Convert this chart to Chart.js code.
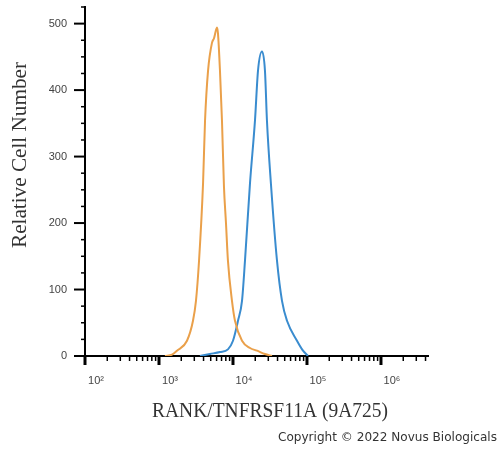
<!DOCTYPE html>
<html>
<head>
<meta charset="utf-8">
<script src="https://cdn.jsdelivr.net/npm/chart.js@4/dist/chart.umd.min.js"></script>
<style>
  html, body { margin: 0; padding: 0; background: #fff; }
  #wrap { width: 499px; height: 449px; position: relative; }
</style>
</head>
<body>
<div id="wrap"><canvas id="myChart"></canvas></div>
<script>
  // isotype control (orange) and RANK stained (blue), intensity vs count
  const orangeX = [1205, 1500, 1750, 2390, 2880, 3160, 3475, 3940, 4190, 4600, 5200, 5540, 6080, 6270, 6670, 7100, 7550, 8040, 8550, 9690, 10640, 13240, 16980, 21100, 27050, 33650];
  const orangeY = [0, 2, 8, 23, 53, 83, 143, 260, 354, 429, 471, 478, 494, 485, 429, 354, 255, 200, 143, 83, 53, 23, 12, 8, 3, 0];

  const blueX = [3580, 4890, 6670, 8550, 10000, 11690, 13240, 14520, 16980, 19820, 21770, 24660, 27050, 28780, 32620, 39360, 45950, 53700, 73280, 88330, 103200];
  const blueY = [0, 3, 6, 10, 23, 53, 83, 143, 260, 354, 429, 458, 429, 354, 258, 143, 83, 53, 23, 8, 0];

  const xDecades = [1e2, 1e3, 1e4, 1e5, 1e6];
  const xLabels = ['10²', '10³', '10⁴', '10⁵', '10⁶'];
  const yLabels = [0, 100, 200, 300, 400, 500];
  const yMinorStep = 25;

  const xTitle = 'RANK/TNFRSF11A (9A725)';
  const yTitle = 'Relative Cell Number';
  const copyright = 'Copyright © 2022 Novus Biologicals';

  const toPoints = (xs, ys) => xs.map((x, i) => ({ x: x, y: ys[i] }));

  // tick marks, major and minor, drawn through the scales
  const tickMarks = {
    id: 'tickMarks',
    afterDraw(chart) {
      const ctx = chart.ctx;
      const xs = chart.scales.x, ys = chart.scales.y;
      const base = chart.chartArea.bottom, left = chart.chartArea.left;
      ctx.save();
      ctx.strokeStyle = '#000';
      ctx.lineCap = 'butt';
      for (let d = 1e2; d <= xs.max; d *= 10) {
        for (let m = 1; m <= 9; m++) {
          const v = d * m;
          if (v > xs.max) break;
          const px = xs.getPixelForValue(v);
          const major = m === 1;
          ctx.lineWidth = major ? 3 : 1.5;
          ctx.beginPath();
          ctx.moveTo(px, base);
          ctx.lineTo(px, base + (major ? 9 : 5));
          ctx.stroke();
        }
      }
      for (let v = 0; v <= ys.max; v += yMinorStep) {
        const py = ys.getPixelForValue(v);
        const major = yLabels.includes(v);
        ctx.lineWidth = major ? 2 : 1.5;
        ctx.beginPath();
        ctx.moveTo(left, py);
        ctx.lineTo(left - (major ? 11 : 4), py);
        ctx.stroke();
      }
      ctx.restore();
    }
  };

  // axis titles and credit line
  const textBits = {
    id: 'textBits',
    afterDraw(chart) {
      const ctx = chart.ctx;
      const fitText = (txt, font, w, x, y, rot, align) => {
        ctx.save();
        ctx.font = font;
        const sx = w / ctx.measureText(txt).width;
        ctx.translate(x, y);
        if (rot) ctx.rotate(rot);
        ctx.scale(sx, 1);
        ctx.textAlign = align;
        ctx.textBaseline = 'alphabetic';
        ctx.fillText(txt, 0, 0);
        ctx.restore();
      };
      ctx.fillStyle = '#333';
      fitText(xTitle, '20px "Liberation Serif"', 236, 270, 417, 0, 'center');
      fitText(yTitle, '20px "Liberation Serif"', 186, 26, 155, -Math.PI / 2, 'center');
      fitText(copyright, '12px "DejaVu Sans"', 219, 497, 441, 0, 'right');
    }
  };

  const config = {
    type: 'line',
    data: {
      datasets: [{
        label: 'Isotype',
        data: toPoints(orangeX, orangeY),
        borderColor: '#eaa04a',
        borderWidth: 2,
        pointRadius: 0,
        cubicInterpolationMode: 'monotone',
        fill: false
      }, {
        label: 'RANK',
        data: toPoints(blueX, blueY),
        borderColor: '#3a8ccf',
        borderWidth: 2,
        pointRadius: 0,
        cubicInterpolationMode: 'monotone',
        fill: false
      }]
    },
    options: {
      responsive: true,
      maintainAspectRatio: false,
      animation: false,
      layout: { padding: { top: 7, right: 71, left: 0, bottom: 0 } },
      plugins: { legend: { display: false }, tooltip: { enabled: false } },
      scales: {
        x: {
          type: 'logarithmic',
          min: 100,
          max: 4.32e6,
          afterFit: (s) => { s.height = 93; s.paddingTop = 0; s.paddingBottom = 0; },
          afterBuildTicks: (s) => { s.ticks = xDecades.map(v => ({ value: v })); },
          grid: { display: true, drawOnChartArea: false, drawTicks: false },
          border: { display: true, color: '#000', width: 2 },
          ticks: {
            autoSkip: false,
            maxRotation: 0,
            padding: 18,
            labelOffset: 11,
            color: '#444',
            font: { family: '"Liberation Sans"', size: 11 },
            callback: (v) => {
              const i = xDecades.indexOf(v);
              return i >= 0 ? xLabels[i] : '';
            }
          }
        },
        y: {
          min: 0,
          max: 525,
          afterFit: (s) => { s.width = 85; s.paddingTop = 0; s.paddingBottom = 0; },
          afterBuildTicks: (s) => { s.ticks = yLabels.map(v => ({ value: v })); },
          grid: { display: true, drawOnChartArea: false, drawTicks: false },
          border: { display: true, color: '#000', width: 2 },
          ticks: {
            padding: 18,
            color: '#444',
            font: { family: '"Liberation Sans"', size: 11 }
          }
        }
      }
    },
    plugins: [tickMarks, textBits]
  };

  const myChart = new Chart(document.getElementById('myChart'), config);
</script>
</body>
</html>
